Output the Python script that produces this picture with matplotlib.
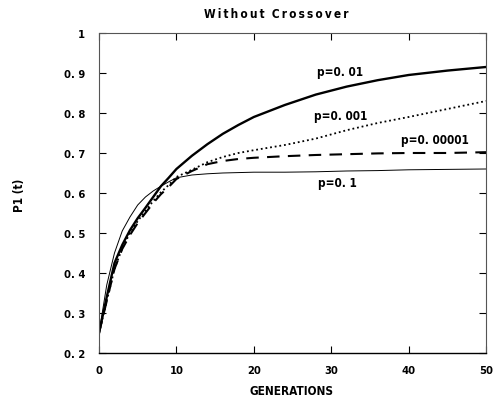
import matplotlib
matplotlib.use("Agg")
import matplotlib.pyplot as plt

# generations sampled along the curves
gens = [0, 1, 2, 3, 4, 5, 6, 7, 8, 9, 10, 12, 14, 16, 18, 20, 24, 28, 32, 36, 40, 45, 50]

p_01 = [0.25, 0.37, 0.45, 0.505, 0.54, 0.57, 0.59, 0.605, 0.617, 0.628, 0.638, 0.645,
        0.648, 0.65, 0.651, 0.652, 0.652, 0.653, 0.655, 0.656, 0.658, 0.659, 0.66]
p_001 = [0.25, 0.34, 0.425, 0.47, 0.507, 0.537, 0.563, 0.59, 0.617, 0.638, 0.66, 0.693,
         0.722, 0.748, 0.77, 0.79, 0.82, 0.846, 0.866, 0.882, 0.895, 0.906, 0.915]
p_0001 = [0.25, 0.33, 0.41, 0.462, 0.5, 0.53, 0.555, 0.58, 0.602, 0.62, 0.64, 0.658,
          0.677, 0.69, 0.70, 0.707, 0.72, 0.736, 0.757, 0.775, 0.79, 0.81, 0.83]
p_000001 = [0.25, 0.33, 0.41, 0.46, 0.495, 0.525, 0.55, 0.575, 0.597, 0.615, 0.635, 0.655,
            0.672, 0.68, 0.685, 0.688, 0.692, 0.695, 0.697, 0.699, 0.70, 0.70, 0.702]

y_ticks = [0.2, 0.3, 0.4, 0.5, 0.6, 0.7, 0.8, 0.9, 1.0]
y_labels = ["0. 2", "0. 3", "0. 4", "0. 5", "0. 6", "0. 7", "0. 8", "0. 9", "1"]
x_ticks = [0, 10, 20, 30, 40, 50]

plt.rcParams["font.family"] = ["DejaVu Sans"]
plt.rcParams["font.stretch"] = "condensed"
plt.rcParams["font.weight"] = "bold"

fig = plt.figure(figsize=(4.95, 4.10), dpi=100)
ax = fig.add_axes([0.2, 0.1366, 0.782, 0.7805])

ax.plot(gens, p_01, color="black", lw=0.7)
ax.plot(gens, p_001, color="black", lw=1.7)
ax.plot(gens, p_0001, color="black", lw=1.3, linestyle=(0, (1, 1.6)))
ax.plot(gens, p_000001, color="black", lw=1.5, linestyle=(0, (6, 4)))

ax.set_xlim(0, 50)
ax.set_ylim(0.2, 1.0)

ax.text(31.1, 0.9025, "p=0. 01", fontsize=8.5, ha="center", va="center")
ax.text(31.2, 0.7925, "p=0. 001", fontsize=8.5, ha="center", va="center")
ax.text(43.4, 0.7325, "p=0. 00001", fontsize=8.5, ha="center", va="center")
ax.text(30.75, 0.625, "p=0. 1", fontsize=8.5, ha="center", va="center")

ax.set_xticks(x_ticks)
ax.set_yticks(y_ticks)
ax.set_yticklabels(y_labels)
ax.tick_params(direction="in", length=5, width=0.8, labelsize=8, top=True, right=True)
ax.tick_params(axis="y", pad=10)
ax.tick_params(axis="x", pad=9)

for side in ["top", "left", "right"]:
    ax.spines[side].set_linestyle((0, (1, 1)))
    ax.spines[side].set_color("#555555")
    ax.spines[side].set_linewidth(0.8)
ax.spines["bottom"].set_linewidth(1.0)

title = "\u2009".join("Without") + "  " + "\u2009".join("Crossover")
fig.text(276 / 495, 1 - 14 / 410, title, ha="center", va="center", fontsize=8.5)
fig.text(20 / 495, 1 - 195 / 410, "P1 (t)", rotation=90, ha="center", va="center", fontsize=8.5)
fig.text(292 / 495, 1 - 392 / 410, "GENERATIONS", ha="center", va="center", fontsize=8.5)

plt.savefig("out.png", dpi=100)
